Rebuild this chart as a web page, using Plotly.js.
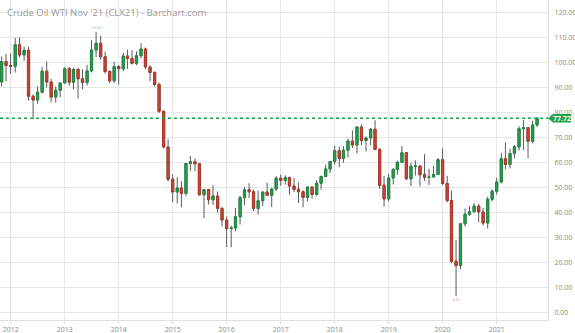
<!DOCTYPE html>
<html>
<head>
<meta charset="utf-8">
<script src="https://cdn.plot.ly/plotly-3.0.1.min.js"></script>
<style>html,body{margin:0;padding:0;background:#fff;}#chart{width:575px;height:333px;}</style>
</head>
<body>
<div id="chart"></div>
<script>
// Monthly candles, Nov 2011 .. Oct 2021
const months = [
 "2011-11-01","2011-12-01",
 "2012-01-01","2012-02-01","2012-03-01","2012-04-01","2012-05-01","2012-06-01","2012-07-01","2012-08-01","2012-09-01","2012-10-01","2012-11-01","2012-12-01",
 "2013-01-01","2013-02-01","2013-03-01","2013-04-01","2013-05-01","2013-06-01","2013-07-01","2013-08-01","2013-09-01","2013-10-01","2013-11-01","2013-12-01",
 "2014-01-01","2014-02-01","2014-03-01","2014-04-01","2014-05-01","2014-06-01","2014-07-01","2014-08-01","2014-09-01","2014-10-01","2014-11-01","2014-12-01",
 "2015-01-01","2015-02-01","2015-03-01","2015-04-01","2015-05-01","2015-06-01","2015-07-01","2015-08-01","2015-09-01","2015-10-01","2015-11-01","2015-12-01",
 "2016-01-01","2016-02-01","2016-03-01","2016-04-01","2016-05-01","2016-06-01","2016-07-01","2016-08-01","2016-09-01","2016-10-01","2016-11-01","2016-12-01",
 "2017-01-01","2017-02-01","2017-03-01","2017-04-01","2017-05-01","2017-06-01","2017-07-01","2017-08-01","2017-09-01","2017-10-01","2017-11-01","2017-12-01",
 "2018-01-01","2018-02-01","2018-03-01","2018-04-01","2018-05-01","2018-06-01","2018-07-01","2018-08-01","2018-09-01","2018-10-01","2018-11-01","2018-12-01",
 "2019-01-01","2019-02-01","2019-03-01","2019-04-01","2019-05-01","2019-06-01","2019-07-01","2019-08-01","2019-09-01","2019-10-01","2019-11-01","2019-12-01",
 "2020-01-01","2020-02-01","2020-03-01","2020-04-01","2020-05-01","2020-06-01","2020-07-01","2020-08-01","2020-09-01","2020-10-01","2020-11-01","2020-12-01",
 "2021-01-01","2021-02-01","2021-03-01","2021-04-01","2021-05-01","2021-06-01","2021-07-01","2021-08-01","2021-09-01","2021-10-01"
];
const openVals = [
 92.2,100.4,
 98.8,98.5,107.1,103.0,104.9,86.5,85.0,88.1,96.5,92.2,86.2,88.9,
 91.8,97.5,92.1,97.2,93.5,92.0,96.6,105.0,107.7,102.3,96.4,92.7,
 98.4,97.5,102.6,101.6,99.7,102.7,105.4,98.2,96.0,91.2,80.5,66.2,
 53.3,48.2,49.8,47.6,59.6,60.3,59.5,47.1,49.2,45.1,46.6,41.7,
 37.0,33.6,33.8,38.3,45.9,49.1,48.3,41.6,44.7,48.2,46.9,49.4,
 53.7,52.8,54.0,50.6,49.3,48.3,46.0,50.2,47.2,51.7,54.4,57.4,
 60.4,64.7,61.6,64.9,68.6,67.0,74.2,68.8,69.8,73.3,65.3,50.9,
 45.4,53.8,57.2,60.1,63.9,53.5,58.5,58.6,55.1,54.1,54.2,55.2,
 61.1,51.6,44.8,20.5,18.8,35.5,39.3,40.3,42.6,40.2,35.8,45.3,
 48.5,52.2,61.5,59.2,63.6,66.3,73.5,74.0,68.5,75.0
];
const highVals = [
 102.4,103.4,
 103.7,109.9,110.0,106.3,106.3,87.2,90.5,98.3,100.4,93.4,90.3,92.0,
 98.2,98.2,97.9,97.9,97.3,99.0,108.9,112.24,110.7,104.4,96.9,100.3,
 99.0,103.9,105.2,104.9,104.5,107.7,106.0,98.8,96.5,92.0,80.8,69.3,
 55.1,54.2,52.5,59.9,62.6,61.6,59.6,49.3,49.5,50.9,48.4,42.0,
 38.4,34.7,41.9,46.8,50.2,51.7,49.1,48.8,48.4,51.9,49.9,54.5,
 55.2,54.9,54.4,53.8,52.0,48.9,50.4,50.4,52.9,54.8,59.1,60.5,
 66.7,66.3,66.6,69.6,72.9,74.5,75.3,70.4,73.8,76.9,65.4,54.6,
 55.4,57.8,60.7,66.6,64.0,59.9,60.9,58.8,63.4,57.5,58.7,61.8,
 65.7,54.7,48.7,29.1,35.6,41.6,42.5,43.8,43.4,41.9,46.3,49.3,
 53.9,63.8,68.0,65.5,67.0,74.5,77.0,74.0,76.7,77.9
];
const lowVals = [
 90.5,92.5,
 95.4,96.0,102.0,100.7,84.8,77.3,83.5,87.6,90.0,84.1,84.0,86.0,
 91.7,90.7,89.3,85.6,89.3,90.8,96.0,102.2,101.2,95.5,91.8,91.8,
 91.2,96.5,97.4,99.2,98.9,101.6,97.2,92.5,90.4,79.8,65.7,52.4,
 44.2,43.6,42.0,46.7,56.5,56.5,46.7,37.8,43.2,43.0,40.0,34.5,
 26.2,26.1,32.5,35.2,43.0,45.8,40.6,39.2,42.5,46.6,42.2,48.6,
 50.7,51.2,47.1,48.2,43.8,42.1,44.4,45.6,46.5,49.1,54.2,55.8,
 59.1,58.1,59.9,62.1,65.8,63.6,67.0,64.4,67.0,64.9,49.4,42.4,
 44.4,51.2,55.1,59.9,53.0,50.6,54.7,50.5,52.6,51.0,54.0,55.0,
 51.0,44.0,19.7,6.5,17.3,34.4,38.7,40.0,36.1,34.9,33.6,44.4,
 47.2,51.6,57.3,57.6,61.6,64.8,65.0,61.7,67.6,74.3
];
const closeVals = [
 100.4,98.8,
 98.5,107.1,103.0,104.9,86.5,85.0,88.1,96.5,92.2,86.2,88.9,91.8,
 97.5,92.1,97.2,93.5,92.0,96.6,105.0,107.7,102.3,96.4,92.7,98.4,
 97.5,102.6,101.6,99.7,102.7,105.4,98.2,96.0,91.2,80.5,66.2,53.3,
 48.2,49.8,47.6,59.6,60.3,59.5,47.1,49.2,45.1,46.6,41.7,37.0,
 33.6,33.8,38.3,45.9,49.1,48.3,41.6,44.7,48.2,46.9,49.4,53.7,
 52.8,54.0,50.6,49.3,48.3,46.0,50.2,47.2,51.7,54.4,57.4,60.4,
 64.7,61.6,64.9,68.6,67.0,74.2,68.8,69.8,73.3,65.3,50.9,45.4,
 53.8,57.2,60.1,63.9,53.5,58.5,58.6,55.1,54.1,54.2,55.2,61.1,
 51.6,44.8,20.5,18.8,35.5,39.3,40.3,42.6,40.2,35.8,45.3,48.5,
 52.2,61.5,59.2,63.6,66.3,73.5,74.0,68.5,75.0,77.72
];
const titleText = "Crude Oil WTI Nov '21 (CLX21) - Barchart.com";

const GREEN = "#23a04c", GREEN_LINE = "#1b8a3f";
const RED = "#cf4330", RED_LINE = "#b23424";
const WICK = "#5a5a5a";
const FONT = "Open Sans, sans-serif";

const bodyHigh = openVals.map((o, i) => Math.max(o, closeVals[i]));
const bodyLow = openVals.map((o, i) => Math.min(o, closeVals[i]));

const wicks = {
  type: "candlestick", x: months, open: openVals, high: highVals, low: lowVals, close: closeVals,
  increasing: {line: {color: WICK, width: 1}, fillcolor: WICK},
  decreasing: {line: {color: WICK, width: 1}, fillcolor: WICK},
  whiskerwidth: 0, hoverinfo: "none", showlegend: false
};
const bodies = {
  type: "candlestick", x: months, open: openVals, high: bodyHigh, low: bodyLow, close: closeVals,
  increasing: {line: {color: GREEN_LINE, width: 0.8}, fillcolor: GREEN},
  decreasing: {line: {color: RED_LINE, width: 0.8}, fillcolor: RED},
  whiskerwidth: 0, hoverinfo: "none", showlegend: false
};

const last = closeVals[closeVals.length - 1];
let hiIdx = 0, loIdx = 0;
highVals.forEach((v, i) => { if (v > highVals[hiIdx]) hiIdx = i; });
lowVals.forEach((v, i) => { if (v < lowVals[loIdx]) loIdx = i; });

const layout = {
  width: 575, height: 333,
  margin: {l: 0, r: 27, t: 0, b: 13},
  paper_bgcolor: "#ffffff", plot_bgcolor: "#ffffff",
  showlegend: false,
  boxgap: 0.25,
  title: {text: titleText, x: 7/575, xref: "container", xanchor: "left", y: 1 - 13/333, yref: "container", yanchor: "middle",
          font: {family: FONT, size: 9.5, color: "#9a9a9a"}},
  xaxis: {
    type: "date", range: ["2011-10-21", "2021-12-14"],
    rangeslider: {visible: false},
    tick0: "2012-01-01", dtick: "M12", tickformat: "%Y",
    showgrid: true, gridcolor: "#e6e6e6", gridwidth: 1,
    showline: true, linecolor: "#e0e0e0", linewidth: 1,
    ticks: "outside", ticklen: 3, tickcolor: "#e0e0e0",
    tickfont: {family: FONT, size: 7, color: "#8a8a8a"},
    zeroline: false, fixedrange: true
  },
  yaxis: {
    side: "right", range: [-3, 125], tick0: 0, dtick: 10, tickformat: ".2f",
    showgrid: true, gridcolor: "#e6e6e6", gridwidth: 1,
    showline: true, linecolor: "#dcdcdc", linewidth: 1,
    ticks: "", ticklabelstandoff: 4,
    tickfont: {family: FONT, size: 7, color: "#8a8a8a"},
    zeroline: false, fixedrange: true
  },
  shapes: [
    {type: "line", xref: "paper", x0: 0, x1: 1, yref: "y", y0: last, y1: last,
     line: {color: "#1fa34c", width: 1.5, dash: "dot"}},
    {type: "path", xref: "paper", xsizemode: "pixel", xanchor: 1, yref: "y", ysizemode: "pixel", yanchor: last,
     path: "M 0 0 L 5 4.3 L 23 4.3 L 23 -4.3 L 5 -4.3 Z", fillcolor: "#1fa34c", line: {width: 0}}
  ],
  annotations: [
    {xref: "paper", x: 1, xanchor: "center", xshift: 14, yref: "y", y: last, yanchor: "middle",
     text: "<b>" + last.toFixed(2) + "</b>", showarrow: false,
     font: {family: FONT, size: 7, color: "#ffffff"}},
    {xref: "x", x: months[hiIdx], yref: "y", y: highVals[hiIdx], yanchor: "bottom", yshift: 0,
     text: highVals[hiIdx].toFixed(2), showarrow: false, font: {family: FONT, size: 3, color: "#8aa890"}},
    {xref: "x", x: months[loIdx], yref: "y", y: lowVals[loIdx], yanchor: "top", yshift: 0,
     text: lowVals[loIdx].toFixed(2), showarrow: false, font: {family: FONT, size: 3, color: "#e07a70"}}
  ]
};

Plotly.newPlot("chart", [wicks, bodies], layout, {displayModeBar: false, staticPlot: true});
</script>
</body>
</html>
